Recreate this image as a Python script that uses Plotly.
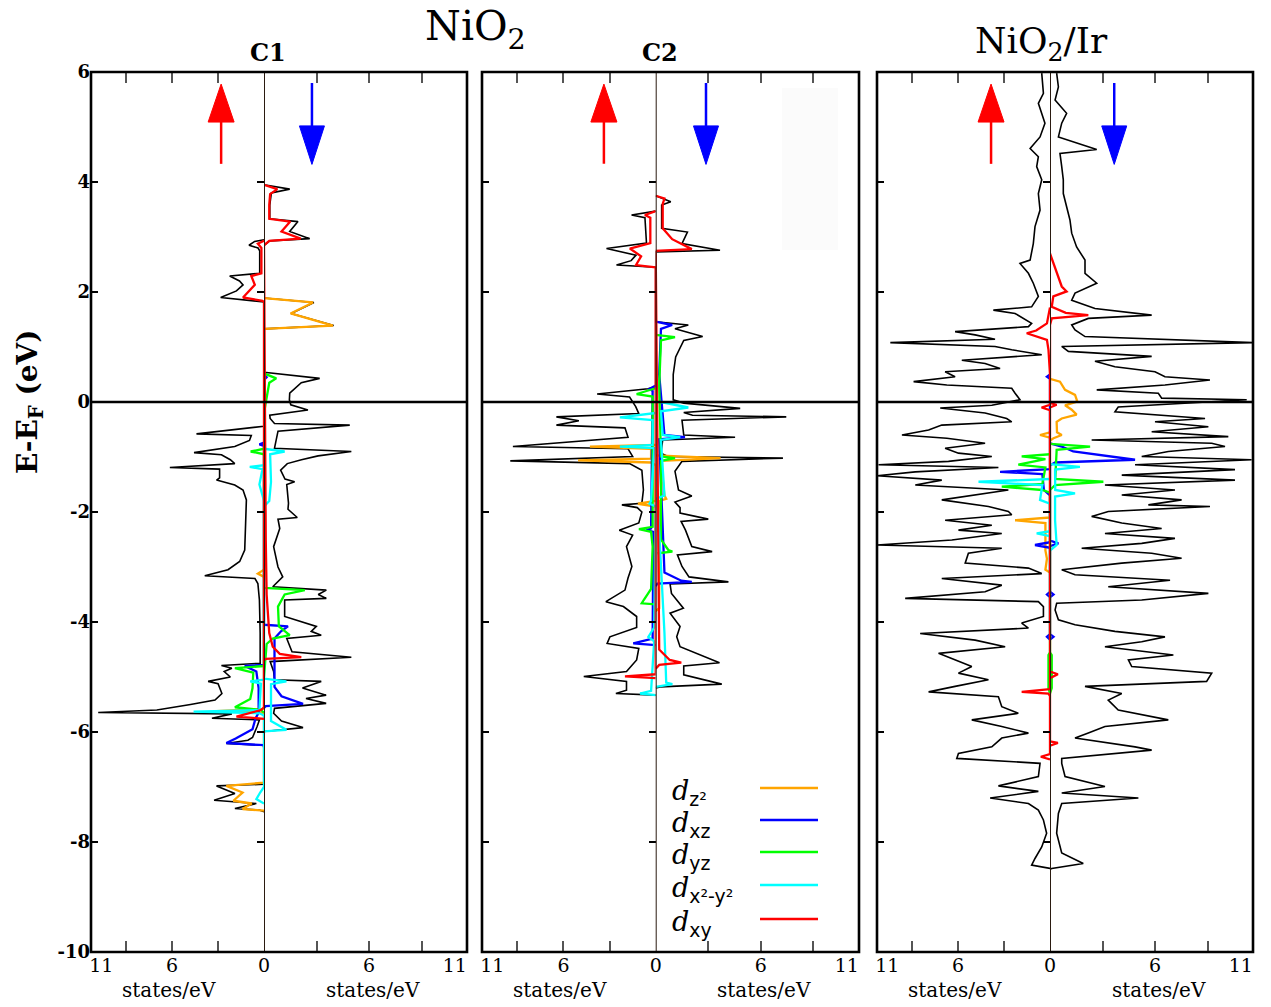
import plotly.graph_objects as go

W, H = 1271, 1007

# ---------------- data: (E - E_F [eV], DOS [states/eV]) ----------------
# Panel C1 (NiO2)
C1_UP_TOT = [(2.95,0),(2.92,0.61),(2.85,0.98),(2.80,0.39),(2.75,0.28),(2.34,0.28),(2.29,2.24),(2.20,1.6),(2.13,1.37),
             (2.02,1.8),(1.90,2.83),(1.84,0.3),(1.82,0),(-0.44,0),(-0.47,0.9),(-0.58,4.41),(-0.61,0.83),(-0.70,0.95),
             (-0.81,1.91),(-0.92,4.57),(-0.96,2.78),(-1.05,2.2),(-1.12,1.91),(-1.19,6.15),(-1.22,2.9),(-1.38,2.9),
             (-1.42,3.1),(-1.47,2.4),(-1.51,1.91),(-1.60,1.37),(-1.78,1.15),(-2.2,1.2),(-2.69,1.26),(-2.9,1.59),
             (-3.05,2.35),(-3.16,3.87),(-3.21,0.59),(-3.3,0.4),(-3.6,0.3),(-4.2,0.25),(-4.75,0.25),(-4.79,2.78),
             (-4.84,2.1),(-4.90,2.6),(-5.0,2.2),(-5.08,3.65),(-5.12,3.0),(-5.3,2.75),(-5.42,3.2),(-5.5,4.8),(-5.6,7.0),
             (-5.645,10.83),(-5.67,2.1),(-5.75,3.4),(-5.78,0.3),(-5.9,0.45),(-6.1,0.75),(-6.15,1.05),(-6.21,2.46),
             (-6.24,0.05),(-6.3,0),(-6.95,0),(-6.98,3.1),(-7.12,1.9),(-7.24,3.26),(-7.3,0.5),(-7.39,1.9),(-7.42,0.3),(-7.45,0)]
C1_DN_TOT = [(3.95,0),(3.87,1.47),(3.80,0.42),(3.58,0.33),(3.33,0.33),(3.28,1.94),(3.10,1.47),(2.97,2.61),(2.93,0.33),
             (2.85,0),(1.89,0),(1.81,2.85),(1.61,1.55),(1.39,3.98),(1.33,0),(0.54,0),(0.43,3.18),(0.35,2.13),(0.16,1.47),
             (0.04,1.45),(-0.05,1.53),(-0.145,2.51),(-0.24,0.33),(-0.30,0.35),(-0.39,0.6),(-0.42,4.9),(-0.53,0.8),
             (-0.6,0.75),(-0.84,0.6),(-0.90,4.99),(-0.98,3.09),(-1.05,2.14),(-1.12,1.33),(-1.24,0.95),(-1.40,1.2),
             (-1.45,1.75),(-1.50,1.3),(-1.84,1.4),(-1.95,1.37),(-2.1,1.9),(-2.13,0.8),(-2.3,0.9),(-2.63,0.55),(-3.0,0.8),
             (-3.18,1.07),(-3.36,0.5),(-3.42,3.56),(-3.5,3.1),(-3.57,3.56),(-3.6,1.18),(-3.9,1.18),(-4.08,2.99),
             (-4.17,2.7),(-4.24,3.27),(-4.3,1.3),(-4.54,1.6),(-4.64,4.99),(-4.72,0.35),(-4.9,0.55),(-5.05,0.6),
             (-5.08,3.27),(-5.2,2.2),(-5.33,3.55),(-5.39,2.4),(-5.48,3.55),(-5.57,0.6),(-5.66,0.55),(-5.8,1.0),
             (-5.92,2.23),(-5.99,0),(-6.05,0)]
C1_UP_Z2 = [(-3.05,0),(-3.12,0.4),(-3.18,0),(-5.58,0),(-5.62,3.1),(-5.65,0),(-6.92,0),(-6.98,2.46),(-7.1,1.4),
            (-7.25,2.0),(-7.3,0.8),(-7.4,1.4),(-7.43,0)]
C1_DN_Z2 = [(1.89,0),(1.81,2.8),(1.61,1.52),(1.39,3.94),(1.33,0)]
C1_UP_XZ = [(-0.74,0),(-0.77,0.3),(-0.8,0),(-4.78,0),(-4.80,1.26),(-4.9,0.5),(-5.2,0.35),(-5.65,0.35),(-5.75,0.55),
            (-5.95,0.75),(-6.12,1.85),(-6.2,2.46),(-6.24,0)]
C1_DN_XZ = [(0.5,0),(0.45,0.15),(0.4,0),(-4.05,0),(-4.08,1.37),(-4.17,0.97),(-4.3,0.6),(-5.18,0.6),(-5.35,1.0),
            (-5.49,2.23),(-5.53,0.1),(-5.56,0)]
C1_UP_YZ = [(-0.85,0),(-0.9,0.87),(-0.95,0),(-4.80,0),(-4.84,1.9),(-4.92,0.7),(-5.2,0.75),(-5.4,0.9),(-5.55,1.9),
            (-5.6,0.2),(-5.65,0)]
C1_DN_YZ = [(0.52,0),(0.43,0.7),(0.35,0.3),(0.1,0.15),(-0.2,0),(-3.38,0),(-3.42,2.33),(-3.5,1.18),(-3.72,0.8),
            (-4.08,0.85),(-4.24,1.47),(-4.3,0.5),(-4.4,0.15),(-5.0,0)]
C1_UP_X2Y2 = [(-1.15,0),(-1.18,0.93),(-1.22,0.1),(-1.5,0.3),(-1.6,0.2),(-1.8,0),(-5.05,0),(-5.08,0.9),(-5.12,0.2),
              (-5.6,0.3),(-5.63,4.6),(-5.66,0.3),(-5.7,0),(-7.0,0),(-7.1,0.25),(-7.22,0.5),(-7.3,0)]
C1_DN_X2Y2 = [(-0.85,0),(-0.9,1.18),(-0.95,0.35),(-1.45,0.4),(-1.8,0.3),(-1.9,0),(-5.03,0),(-5.08,1.28),(-5.13,0.4),
              (-5.8,0.4),(-5.96,1.28),(-5.99,0)]
C1_UP_XY = [(2.93,0),(2.88,0.4),(2.80,0.17),(2.34,0.17),(2.29,0.83),(2.13,0.6),(1.90,1.37),(1.84,0.1),(1.82,0),
            (-5.55,0),(-5.6,0.2),(-5.72,1.8),(-5.76,0)]
C1_DN_XY = [(3.95,0),(3.87,0.76),(3.78,0.35),(3.58,0.3),(3.33,0.3),(3.28,1.5),(3.10,1.0),(2.97,2.1),(2.93,0.3),
            (2.85,0),(-2.5,0.1),(-3.5,0.15),(-4.2,0.3),(-4.45,0.5),(-4.58,0.9),(-4.64,2.13),(-4.67,0.1),(-4.7,0)]

# Panel C2 (NiO2)
C2_UP_TOT = [(3.47,0),(3.40,1.57),(3.35,0.7),(2.89,0.6),(2.79,3.2),(2.67,1.28),(2.57,1.6),(2.49,2.55),(2.45,0),
             (0.28,0),(0.24,0.5),(0.145,3.81),(0.09,1.7),(-0.085,1.3),(-0.21,1.1),(-0.27,6.46),(-0.34,5.0),
             (-0.42,6.46),(-0.47,2.0),(-0.64,1.8),(-0.81,9.29),(-0.85,1.8),(-0.99,1.5),(-1.07,9.46),(-1.12,1.7),
             (-1.24,0.9),(-1.6,0.8),(-1.84,0.9),(-1.87,2.2),(-1.92,1.2),(-2.0,0.9),(-2.2,1.1),(-2.33,2.37),(-2.42,1.5),
             (-2.63,1.9),(-2.99,1.55),(-3.2,1.8),(-3.42,2.0),(-3.63,3.24),(-3.72,2.1),(-3.9,1.24),(-4.1,1.24),
             (-4.27,2.98),(-4.39,3.16),(-4.48,1.1),(-4.69,1.24),(-4.9,1.9),(-4.99,4.68),(-5.08,1.9),(-5.24,1.9),
             (-5.30,2.59),(-5.33,0)]
C2_DN_TOT = [(3.75,0),(3.64,0.86),(3.58,0.34),(3.16,0.34),(3.09,1.81),(2.88,1.5),(2.76,3.67),(2.73,0),(1.46,0),
             (1.40,1.86),(1.33,1.1),(1.19,2.68),(1.12,1.6),(0.82,1.14),(0.5,1.0),(0.22,1.0),(0.04,1.0),(-0.02,1.6),
             (-0.115,4.82),(-0.19,1.6),(-0.24,2.1),(-0.27,7.45),(-0.33,1.5),(-0.6,1.6),(-0.64,4.53),(-0.69,0.4),
             (-0.93,0.3),(-0.99,0.7),(-1.02,7.26),(-1.08,1.5),(-1.26,1.1),(-1.6,1.3),(-1.71,2.06),(-1.82,1.1),
             (-1.92,1.39),(-2.02,1.39),(-2.13,3.0),(-2.17,1.45),(-2.33,1.7),(-2.63,2.06),(-2.72,3.22),(-2.78,1.24),
             (-2.99,1.5),(-3.18,1.9),(-3.27,4.15),(-3.31,0.82),(-3.48,0.9),(-3.75,1.58),(-3.84,0.82),(-4.08,1.39),
             (-4.27,1.2),(-4.45,1.39),(-4.74,3.64),(-4.80,1.6),(-4.96,1.6),(-5.13,3.77),(-5.18,0.25),(-5.2,0)]
C2_UP_Z2 = [(-0.78,0),(-0.81,4.28),(-0.85,0.3),(-1.03,0.3),(-1.06,5.05),(-1.1,0.3),(-1.15,0),(-1.8,0),(-1.85,1.15),(-1.9,0)]
C2_DN_Z2 = [(-0.97,0),(-1.02,3.7),(-1.07,0.3),(-1.7,0.5),(-1.76,0.6),(-1.8,0.2),(-3.75,0.2),(-3.8,0)]
C2_UP_XZ = [(0.3,0),(0.24,0.4),(0.2,0.2),(-2.3,0.3),(-2.33,0.6),(-2.36,0.15),(-4.3,0.2),(-4.39,1.46),(-4.42,0)]
C2_DN_XZ = [(1.46,0),(1.40,0.94),(1.33,0.3),(0.5,0.2),(-0.6,0.5),(-0.64,1.67),(-0.68,0.2),(-3.1,0.5),(-3.25,1.46),
            (-3.27,2.06),(-3.3,0.1),(-3.35,0)]
C2_UP_YZ = [(0.25,0),(0.145,1.24),(0.1,0.2),(-2.27,0.2),(-2.31,1.09),(-2.36,0.3),(-2.63,0.2),(-3.4,0.3),(-3.6,0.78),
            (-3.66,0.91),(-3.68,0)]
C2_DN_YZ = [(1.22,0),(1.18,1.1),(1.12,0.3),(0.3,0.2),(-0.99,0.3),(-1.02,1.1),(-1.07,0.3),(-1.5,0.3),(-2.5,0.3),
            (-2.69,0.72),(-2.72,0.95),(-2.75,0.1)]
C2_UP_X2Y2 = [(-0.2,0),(-0.28,2.33),(-0.33,0.2),(-0.78,0.2),(-0.81,2.33),(-0.84,0.1),(-1.8,0.3),(-1.85,0.4),(-1.9,0),
              (-4.1,0.1),(-4.27,0.48),(-4.35,0.1),(-5.25,0.3),(-5.30,1.02),(-5.33,0)]
C2_DN_X2Y2 = [(0.0,0.3),(-0.1,1.86),(-0.17,0.3),(-0.6,0.4),(-0.64,1.4),(-0.69,0.3),(-1.7,0.5),(-1.75,0.1),(-4.2,0.5),
              (-5.1,0.6),(-5.13,0.95),(-5.18,0)]
C2_UP_XY = [(3.47,0),(3.40,0.7),(3.35,0.35),(2.89,0.35),(2.79,1.68),(2.65,0.95),(2.49,1.28),(2.45,0),(-4.95,0),
            (-4.99,2.0),(-5.02,0)]
C2_DN_XY = [(3.75,0),(3.70,0.5),(3.6,0.4),(3.16,0.4),(2.96,0.94),(2.78,2.06),(2.75,0),(-4.5,0.2),(-4.69,0.8),
            (-4.74,1.46),(-4.78,0.2),(-4.85,0)]

# Panel NiO2/Ir
C3_UP_TOT = [(5.98,0.54),(5.61,0.43),(5.43,0.76),(5.25,0.54),(5.07,0.33),(4.82,0.65),(4.61,1.3),(4.46,0.76),(4.28,0.87),
             (4.04,0.54),(3.79,0.76),(3.49,0.65),(3.19,0.98),(2.88,1.09),(2.58,1.3),(2.52,1.96),(2.34,1.41),(2.16,1.09),
             (1.92,0.76),(1.73,1.2),(1.67,3.7),(1.61,2.28),(1.43,1.2),(1.37,1.41),(1.28,6.2),(1.22,4.89),(1.14,3.59),
             (1.08,10.43),(1.01,3.59),(0.95,2.5),(0.86,0.54),(0.76,5.76),(0.70,4.24),(0.61,3.26),(0.55,6.85),(0.46,6.2),
             (0.37,8.91),(0.31,6.74),(0.25,2.5),(0.16,2.28),(0.04,1.96),(-0.06,3.8),(-0.11,7.17),(-0.2,4.24),(-0.3,2.83),
             (-0.36,2.5),(-0.42,7.07),(-0.51,7.93),(-0.6,9.67),(-0.66,6.74),(-0.75,4.24),(-0.84,6.85),(-0.93,5.98),
             (-0.99,3.8),(-1.08,6.63),(-1.14,11.2),(-1.19,3.37),(-1.27,8.8),(-1.34,11.3),(-1.42,7.07),(-1.51,8.8),
             (-1.60,2.72),(-1.69,4.89),(-1.78,7.07),(-1.90,4.02),(-1.99,2.72),(-2.05,2.5),(-2.15,6.85),(-2.24,3.8),
             (-2.33,5.98),(-2.39,3.15),(-2.51,6.41),(-2.6,11.3),(-2.66,3.15),(-2.75,5.33),(-2.93,5.54),(-3.02,1.41),
             (-3.12,0.54),(-3.21,7.07),(-3.33,3.15),(-3.45,4.24),(-3.57,9.46),(-3.63,0.76),(-3.72,0.43),(-3.9,0.43),
             (-4.02,1.85),(-4.11,1.41),(-4.21,8.48),(-4.33,4.89),(-4.45,2.93),(-4.57,7.28),(-4.69,6.2),(-4.81,5.11),
             (-4.93,5.98),(-5.05,4.02),(-5.17,6.2),(-5.27,7.93),(-5.36,3.37),(-5.54,3.15),(-5.66,2.07),(-5.78,5.11),
             (-5.9,3.15),(-6.02,1.41),(-6.11,3.15),(-6.27,3.8),(-6.39,5.98),(-6.48,6.09),(-6.57,0.65),(-6.81,0.76),
             (-6.98,3.37),(-7.08,0.76),(-7.2,3.91),(-7.3,1.41),(-7.42,0.76),(-7.6,0.43),(-7.84,0.22),(-8.09,0.54),
             (-8.3,0.98),(-8.42,1.2),(-8.48,0)]
C3_DN_TOT = [(5.98,0.38),(5.73,0.48),(5.49,0.29),(5.25,0.95),(5.07,0.67),(4.82,0.48),(4.59,2.67),(4.52,0.57),(4.28,0.67),
             (4.04,0.76),(3.79,0.76),(3.55,0.95),(3.31,1.14),(3.07,1.24),(2.82,1.52),(2.58,2.0),(2.34,2.0),(2.16,2.67),
             (1.98,1.43),(1.85,1.24),(1.7,2.57),(1.58,5.81),(1.52,2.19),(1.4,1.24),(1.31,1.43),(1.19,2.0),(1.08,11.6),
             (1.01,0.67),(0.92,1.05),(0.83,5.81),(0.74,2.57),(0.64,3.71),(0.55,6.0),(0.46,6.57),(0.4,9.14),(0.31,6.57),
             (0.22,2.67),(0.16,6.19),(0.07,6.38),(0.04,11.24),(-0.09,3.9),(-0.18,3.71),(-0.3,8.86),(-0.36,6.0),
             (-0.45,9.05),(-0.54,5.81),(-0.63,10.19),(-0.69,2.38),(-0.75,9.24),(-0.81,10.0),(-0.9,6.76),(-0.99,5.24),
             (-1.05,11.52),(-1.14,4.86),(-1.23,10.57),(-1.33,4.1),(-1.42,10.57),(-1.51,3.14),(-1.6,7.14),(-1.69,4.1),
             (-1.78,7.52),(-1.87,5.62),(-1.9,9.14),(-1.99,3.33),(-2.08,2.38),(-2.2,4.1),(-2.3,6.38),(-2.39,3.14),
             (-2.48,7.14),(-2.57,5.24),(-2.66,1.81),(-2.75,5.81),(-2.84,7.52),(-2.93,4.1),(-3.05,0.67),(-3.14,1.43),
             (-3.24,6.86),(-3.36,3.33),(-3.48,9.05),(-3.6,5.24),(-3.66,0.38),(-3.78,0.29),(-3.96,0.48),(-4.05,1.43),
             (-4.17,3.71),(-4.27,6.57),(-4.36,5.24),(-4.45,3.14),(-4.6,7.05),(-4.69,4.48),(-4.81,4.67),(-4.93,9.24),
             (-5.08,8.95),(-5.17,2.0),(-5.3,4.1),(-5.42,3.33),(-5.6,3.9),(-5.78,6.76),(-5.9,3.14),(-6.02,2.19),
             (-6.11,1.43),(-6.27,4.86),(-6.33,5.81),(-6.48,0.67),(-6.57,0.67),(-6.81,0.86),(-6.99,3.14),(-7.11,0.67),
             (-7.2,5.05),(-7.3,0.67),(-7.48,0.48),(-7.84,0.38),(-8.2,0.67),(-8.39,1.9),(-8.48,0.1),(-8.5,0)]
C3_UP_Z2 = [(-0.55,0),(-0.6,0.65),(-0.65,0),(-2.1,0),(-2.15,2.28),(-2.2,0.3),(-2.7,0.3),(-2.85,0.2),(-3.05,0.3),(-3.1,0)]
C3_DN_Z2 = [(0.42,0),(0.37,0.57),(0.22,0.86),(0.13,1.43),(0.01,1.56),(-0.06,0.86),(-0.14,1.24),(-0.23,1.52),(-0.3,0.67),
            (-0.36,0.38),(-0.55,0.4),(-0.6,0.67),(-0.66,0.2),(-0.7,0)]
C3_UP_XZ = [(0.5,0),(0.46,0.2),(0.42,0),(-1.22,0),(-1.27,3.26),(-1.31,0.5),(-1.6,0.4),(-1.7,0),(-2.55,0),(-2.6,0.98),
            (-2.65,0),(-3.45,0),(-3.5,0.2),(-3.55,0),(-4.22,0),(-4.27,0.2),(-4.32,0)]
C3_DN_XZ = [(-0.75,0),(-0.81,0.67),(-0.9,1.33),(-1.05,4.86),(-1.1,0.3),(-1.15,0),(-2.52,0),(-2.57,0.48),(-2.62,0),
            (-3.45,0),(-3.5,0.2),(-3.55,0),(-4.22,0),(-4.27,0.2),(-4.32,0)]
C3_UP_YZ = [(-0.95,0),(-0.99,1.85),(-1.04,0.3),(-1.14,2.07),(-1.19,0.3),(-1.49,0.5),(-1.54,3.15),(-1.6,0.5),(-1.65,0),
            (-4.55,0),(-4.6,0.1),(-5.2,0.1),(-5.3,0)]
C3_DN_YZ = [(-0.76,0),(-0.81,2.29),(-0.87,0.38),(-1.4,0.3),(-1.45,3.05),(-1.51,0.29),(-1.6,0),(-4.55,0),(-4.6,0.1),
            (-5.2,0.1),(-5.3,0)]
C3_UP_X2Y2 = [(-1.4,0),(-1.45,4.67),(-1.51,0.5),(-1.78,0.65),(-1.85,0),(-2.35,0),(-2.39,0.87),(-2.44,0)]
C3_DN_X2Y2 = [(-1.13,0),(-1.18,1.71),(-1.23,0.29),(-1.6,0.3),(-1.66,1.43),(-1.72,0.29),(-2.15,0.29),(-2.6,0.38),(-2.7,0)]
C3_UP_XY = [(1.72,0),(1.43,0.2),(1.3,0.9),(1.25,1.52),(1.13,0.2),(0.95,0.1),(0.5,0),(-0.05,0),(-0.1,0.55),(-0.15,0),
            (-5.22,0),(-5.27,1.85),(-5.3,0.1),(-5.35,0),(-6.4,0),(-6.45,0.6),(-6.5,0)]
C3_DN_XY = [(2.7,0),(2.1,0.67),(2.01,0.95),(1.92,0.19),(1.73,0.1),(1.62,0.9),(1.58,2.19),(1.52,0.1),(1.4,0),(-0.02,0),
            (-0.05,0.38),(-0.1,0),(-4.9,0),(-4.95,0.45),(-5.02,0),(-6.17,0),(-6.2,0.45),(-6.25,0)]

ORBITALS = ["z2", "xz", "yz", "x2y2", "xy"]
ORB_COLORS = {"z2": "#ffa500", "xz": "#0000ff", "yz": "#00ff00", "x2y2": "#00ffff", "xy": "#ff0000"}
ORB_LABELS = {"z2": "z²", "xz": "xz", "yz": "yz", "x2y2": "x²-y²", "xy": "xy"}

Y_TICKS = [6, 4, 2, 0, -2, -4, -6, -8, -10]
Y_TICKTEXT = ["6", "4", "2", "0", "-2", "-4", "-6", "-8", "-10"]
X_MARKS = [3, 6, 9]                    # tick marks on each half
UP_LABEL_VALS = [10.63, 6, 0]          # label positions on the spin-up half
UP_LABEL_TEXT = ["11", "6", "0"]
DN_LABEL_VALS = [6, 10.9]
DN_LABEL_TEXT = ["6", "11"]

PANELS = [
    dict(title="C1", up=C1_UP_TOT, dn=C1_DN_TOT,
         up_orb=[C1_UP_Z2, C1_UP_XZ, C1_UP_YZ, C1_UP_X2Y2, C1_UP_XY],
         dn_orb=[C1_DN_Z2, C1_DN_XZ, C1_DN_YZ, C1_DN_X2Y2, C1_DN_XY],
         px=(91, 264, 467), arrows=(2.8, 2.74)),
    dict(title="C2", up=C2_UP_TOT, dn=C2_DN_TOT,
         up_orb=[C2_UP_Z2, C2_UP_XZ, C2_UP_YZ, C2_UP_X2Y2, C2_UP_XY],
         dn_orb=[C2_DN_Z2, C2_DN_XZ, C2_DN_YZ, C2_DN_X2Y2, C2_DN_XY],
         px=(482, 655.7, 859), arrows=(3.37, 2.87)),
    dict(title="", up=C3_UP_TOT, dn=C3_DN_TOT,
         up_orb=[C3_UP_Z2, C3_UP_XZ, C3_UP_YZ, C3_UP_X2Y2, C3_UP_XY],
         dn_orb=[C3_DN_Z2, C3_DN_XZ, C3_DN_YZ, C3_DN_X2Y2, C3_DN_XY],
         px=(877, 1050, 1253), arrows=(3.85, 3.67)),
]

FONT = "DejaVu Serif"
UP_RANGE = 11.3
DN_RANGE = 11.6
Y_TOP_PX, Y_BOT_PX = 72, 952


def fx(px):
    return px / W


def fy(py):
    return 1 - py / H


fig = go.Figure()


def add_curve(pairs, xa, ya, color, width):
    e = [p[0] for p in pairs]
    d = [p[1] for p in pairs]
    fig.add_trace(go.Scatter(x=d, y=e, xaxis=xa, yaxis=ya, mode="lines",
                             line=dict(color=color, width=width),
                             hoverinfo="skip", showlegend=False))


def axname(kind, n):
    return kind if n == 1 else f"{kind}{n}"


def axkey(kind, n):
    return f"{kind}axis" if n == 1 else f"{kind}axis{n}"


layout = dict(width=W, height=H, margin=dict(l=0, r=0, t=0, b=0, pad=0), autosize=False,
              template="none",
              paper_bgcolor="white", plot_bgcolor="white",
              font=dict(family=FONT, color="black"), showlegend=False)
shapes = []
annotations = []

base_x = dict(showgrid=False, zeroline=False, showline=False, automargin=False, fixedrange=True)

for i, p in enumerate(PANELS):
    xu, xd, yi = 2 * i + 1, 2 * i + 2, i + 1
    xu_lab, xd_lab = 7 + 2 * i, 8 + 2 * i
    xu_name, xd_name, y_name = axname("x", xu), axname("x", xd), axname("y", yi)
    xu_lab_name, xd_lab_name = axname("x", xu_lab), axname("x", xd_lab)
    left, mid, right = p["px"]

    tick_marks = dict(tickmode="array", tickvals=X_MARKS, ticks="inside", ticklen=11, tickwidth=1.5,
                      tickcolor="#555555", showticklabels=False, mirror="ticks")
    layout[axkey("x", xu)] = dict(base_x, **tick_marks, domain=[fx(left), fx(mid)],
                                  range=[UP_RANGE, 0], anchor=y_name)
    layout[axkey("x", xd)] = dict(base_x, **tick_marks, domain=[fx(mid), fx(right)],
                                  range=[0, DN_RANGE], anchor=y_name)
    label_font = dict(family=FONT, size=19, color="black")
    layout[axkey("x", xu_lab)] = dict(base_x, overlaying=xu_name, domain=[fx(left), fx(mid)],
                                      range=[UP_RANGE, 0], anchor=y_name, side="bottom", ticks="",
                                      tickmode="array", tickvals=UP_LABEL_VALS, ticktext=UP_LABEL_TEXT,
                                      tickfont=label_font, showticklabels=True)
    layout[axkey("x", xd_lab)] = dict(base_x, overlaying=xd_name, domain=[fx(mid), fx(right)],
                                      range=[0, DN_RANGE], anchor=y_name, side="bottom", ticks="",
                                      tickmode="array", tickvals=DN_LABEL_VALS, ticktext=DN_LABEL_TEXT,
                                      tickfont=label_font, showticklabels=True)
    layout[axkey("y", yi)] = dict(
        domain=[fy(Y_BOT_PX), fy(Y_TOP_PX)], range=[-10, 6], anchor=xu_name,
        showgrid=False, zeroline=False, showline=False, automargin=False, ticks="inside", ticklen=7,
        tickwidth=2, tickcolor="black", mirror="ticks", tickmode="array",
        tickvals=Y_TICKS, ticktext=Y_TICKTEXT, showticklabels=(i == 0),
        tickfont=dict(family=FONT, size=18, color="black", weight="bold"), fixedrange=True)

    # label-only axes need a (data-less) trace so that Plotly draws them
    for lab_name in (xu_lab_name, xd_lab_name):
        fig.add_trace(go.Scatter(x=[], y=[], xaxis=lab_name, yaxis=y_name, mode="lines",
                                 hoverinfo="skip", showlegend=False))

    # curves: totals first, orbitals on top
    add_curve(p["up"], xu_name, y_name, "black", 1.6)
    add_curve(p["dn"], xd_name, y_name, "black", 1.6)
    for orb, cu, cd in zip(ORBITALS, p["up_orb"], p["dn_orb"]):
        add_curve(cu, xu_name, y_name, ORB_COLORS[orb], 2.3)
        add_curve(cd, xd_name, y_name, ORB_COLORS[orb], 2.3)

    # spin divider and Fermi level
    shapes.append(dict(type="line", xref=xd_name, yref=y_name, x0=0, x1=0, y0=-10, y1=6,
                       line=dict(color="#2a1a10", width=2), layer="above"))
    shapes.append(dict(type="line", xref="paper", yref=y_name, x0=fx(left), x1=fx(right), y0=0, y1=0,
                       line=dict(color="black", width=2.5), layer="above"))
    # frame
    shapes.append(dict(type="rect", xref="paper", yref="paper", x0=fx(left), x1=fx(right),
                       y0=fy(Y_BOT_PX), y1=fy(Y_TOP_PX), line=dict(color="black", width=2.6),
                       layer="above"))

    # spin arrows
    ax_up, ax_dn = p["arrows"]
    hw_up = 13 / 15.33
    hw_dn = 12.5 / 17.5
    shapes.append(dict(type="line", xref=xu_name, yref=y_name, x0=ax_up, x1=ax_up, y0=4.33, y1=5.12,
                       line=dict(color="red", width=2.5)))
    shapes.append(dict(type="path", xref=xu_name, yref=y_name,
                       path=f"M {ax_up - hw_up},5.09 L {ax_up + hw_up},5.09 L {ax_up},5.78 Z",
                       fillcolor="red", line=dict(color="red", width=1)))
    shapes.append(dict(type="line", xref=xd_name, yref=y_name, x0=ax_dn, x1=ax_dn, y0=5.8, y1=4.98,
                       line=dict(color="blue", width=2.5)))
    shapes.append(dict(type="path", xref=xd_name, yref=y_name,
                       path=f"M {ax_dn - hw_dn},5.02 L {ax_dn + hw_dn},5.02 L {ax_dn},4.32 Z",
                       fillcolor="blue", line=dict(color="blue", width=1)))

    # x axis titles
    for cx in ((left + mid) / 2 - 9, (mid + right) / 2 + 7):
        annotations.append(dict(text="states/eV", xref="paper", yref="paper", x=fx(cx), y=fy(990),
                                showarrow=False, xanchor="center", yanchor="middle",
                                font=dict(family=FONT, size=20, color="black")))
    if p["title"]:
        annotations.append(dict(text=p["title"], xref="paper", yref="paper", x=fx(mid + 4), y=fy(53),
                                showarrow=False, xanchor="center", yanchor="middle",
                                font=dict(family=FONT, size=24, color="black", weight="bold")))

# faint box in panel C2
shapes.append(dict(type="rect", xref="paper", yref="paper", x0=fx(782), x1=fx(838), y0=fy(250), y1=fy(88),
                   fillcolor="#fbfbfb", line=dict(width=0), layer="below"))

# big titles
annotations.append(dict(text="NiO<sub>2</sub>", xref="paper", yref="paper", x=fx(475), y=1,
                        showarrow=False, xanchor="center", yanchor="top",
                        font=dict(family=FONT, size=41, color="black")))
annotations.append(dict(text="NiO<sub>2</sub>/Ir", xref="paper", yref="paper", x=fx(1041), y=fy(43),
                        showarrow=False, xanchor="center", yanchor="middle",
                        font=dict(family=FONT, size=36, color="black")))
# y title
annotations.append(dict(text="<b>E-E<sub>F</sub> (eV)</b>", xref="paper", yref="paper", x=fx(30), y=fy(402),
                        showarrow=False, textangle=-90, xanchor="center", yanchor="middle",
                        font=dict(family=FONT, size=28, color="black")))

# legend
LEG_Y = [788, 820, 852, 885, 919]
for orb, ly in zip(ORBITALS, LEG_Y):
    shapes.append(dict(type="line", xref="paper", yref="paper", x0=fx(760), x1=fx(818), y0=fy(ly), y1=fy(ly),
                       line=dict(color=ORB_COLORS[orb], width=2.3)))
    annotations.append(dict(
        text=f"<i>d</i><sub><span style='font-family:DejaVu Sans'>{ORB_LABELS[orb]}</span></sub>",
        xref="paper", yref="paper", x=fx(670), y=fy(ly + 4), showarrow=False,
        xanchor="left", yanchor="middle", font=dict(family=FONT, size=27, color="black")))

layout["shapes"] = shapes
layout["annotations"] = annotations
fig.update_layout(**layout)
fig.write_html("out.html")
